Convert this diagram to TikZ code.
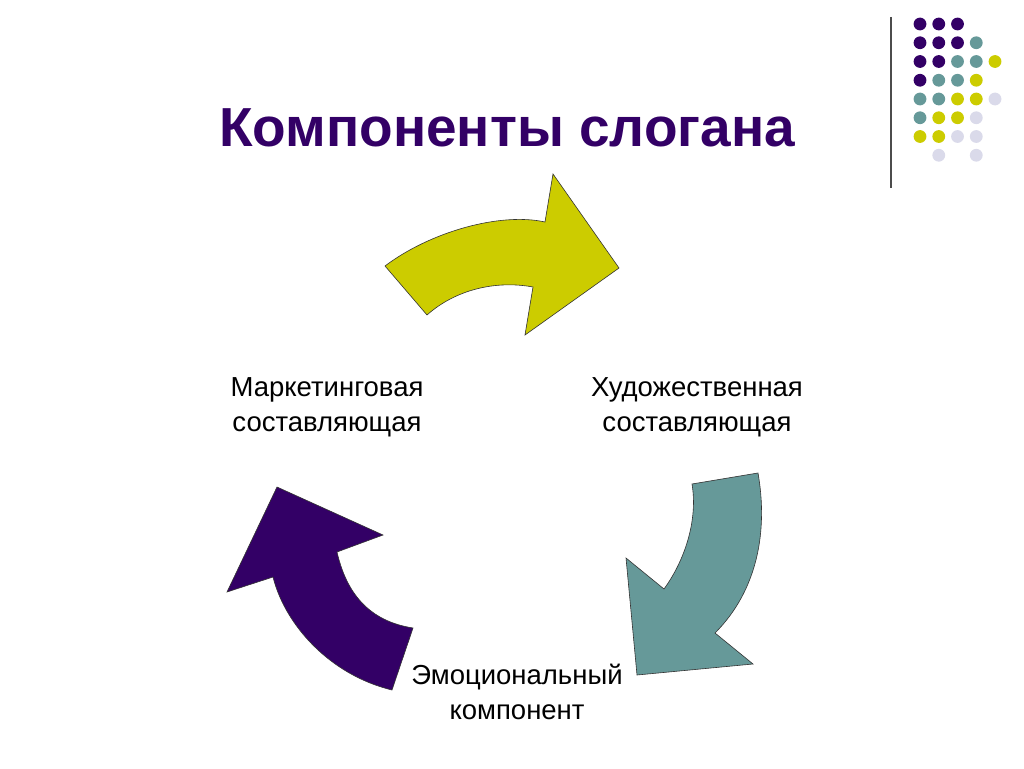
\documentclass[tikz,border=0pt]{standalone}
\usepackage{fontspec}
\setmainfont{Liberation Sans}
\usepackage{tikz}
\usetikzlibrary{positioning}
\definecolor{slogpurple}{HTML}{330066}
\definecolor{slogteal}{HTML}{669999}
\definecolor{slogolive}{HTML}{CCCC00}
\definecolor{sloglilac}{HTML}{DADAEA}
\tikzset{
x=1pt, y=-1pt, % one unit is one pixel of the slide, y goes down
bigarrow/.style={draw=black!80, line width=0.6pt, line join=miter}, % outline of the bent arrows
label/.style={align=center, font=\fontsize{27.5}{35}\selectfont, text=black}, % texts beside the arrows
dot/.style={radius=6.4pt}, % the little circles in the corner
}

\begin{document}
\begin{tikzpicture}
    \useasboundingbox[fill=white] (0,0) rectangle (1024,768);
    % corner decoration
    \draw[black!70, line width=1.2pt] (891,17) -- (891,188);
    \foreach \c/\r/\col in {0/0/slogpurple,1/0/slogpurple,2/0/slogpurple,
        0/1/slogpurple,1/1/slogpurple,2/1/slogpurple,3/1/slogteal,
        0/2/slogpurple,1/2/slogpurple,2/2/slogteal,3/2/slogteal,4/2/slogolive,
        0/3/slogpurple,1/3/slogteal,2/3/slogteal,3/3/slogolive,
        0/4/slogteal,1/4/slogteal,2/4/slogolive,3/4/slogolive,4/4/sloglilac,
        0/5/slogteal,1/5/slogolive,2/5/slogolive,3/5/sloglilac,
        0/6/slogolive,1/6/slogolive,2/6/sloglilac,3/6/sloglilac,
        1/7/sloglilac,3/7/sloglilac}
        \fill[\col, dot] ({920+18.75*\c},{24+18.75*\r}) circle;

    \node[anchor=base, text=slogpurple, font=\fontsize{55}{60}\selectfont\bfseries] (title) at (507,146) {Компоненты слогана};

    \node[label] (mark) at (327,407) {Маркетинговая\\составляющая};
    \node[label] (art) at (697,407) {Художественная\\составляющая};
    \node[label] (emo) at (517,692) {Эмоциональный\\компонент};

    % the three bent arrows
    \draw[bigarrow, fill=slogolive] (385,266) .. controls (430,232) and (500,212) .. (545,222)
        -- (553,174) -- (619,268) -- (525,335) -- (533,287)
        .. controls (495,280) and (455,290) .. (427,315) -- cycle;
    \draw[bigarrow, fill=slogteal] (692,484) -- (758,473)
        .. controls (768,530) and (758,590) .. (715,633)
        -- (753,664) -- (637,675) -- (626,558) -- (664,589)
        .. controls (685,560) and (698,520) .. (692,484) -- cycle;
    \draw[bigarrow, fill=slogpurple] (392,690) -- (413,628)
        .. controls (375,622) and (348,600) .. (337,552)
        -- (383,535) -- (277,487) -- (227,592) -- (273,577)
        .. controls (285,625) and (330,675) .. (392,690) -- cycle;
\end{tikzpicture}
\end{document}
